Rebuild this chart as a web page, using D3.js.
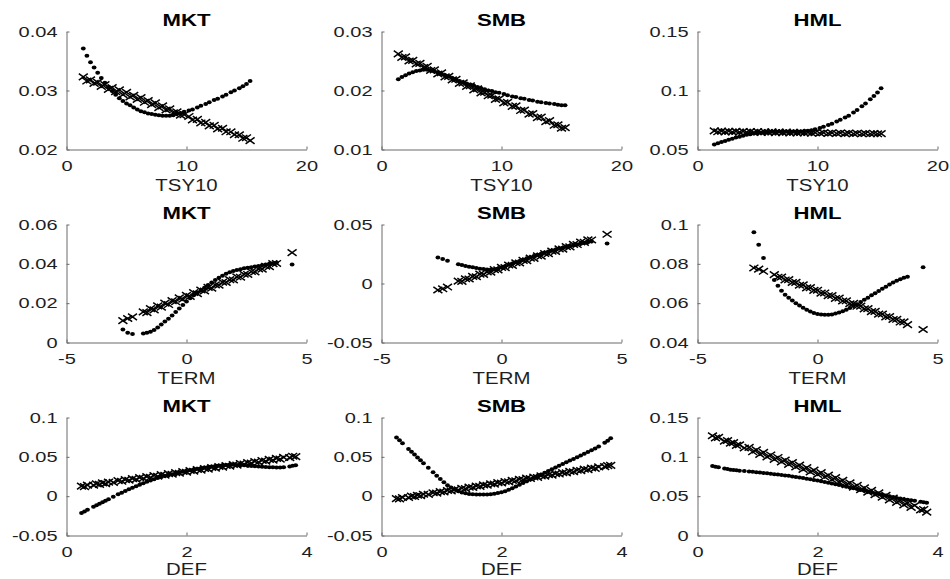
<!DOCTYPE html>
<html>
<head>
<meta charset="utf-8">
<script src="https://cdn.jsdelivr.net/npm/d3@7"></script>
<style>
  html, body { margin: 0; padding: 0; background: #fff; }
  svg { display: block; }
  text { font-family: "Liberation Sans", Arial, Helvetica, sans-serif; }
</style>
</head>
<body>
<div id="chart"></div>
<script>
// ---------------- DATA ----------------
const factors = ["MKT", "SMB", "HML"];
const predictors = ["TSY10", "TERM", "DEF"];

const xTickTSY10 = [0, 10, 20];
const xTickTERM = [-5, 0, 5];
const xTickDEF = [0, 2, 4];

const yTickMKT_TSY10 = [0.02, 0.03, 0.04];
const yTickSMB_TSY10 = [0.01, 0.02, 0.03];
const yTickHML_TSY10 = [0.05, 0.1, 0.15];
const yTickMKT_TERM = [0, 0.02, 0.04, 0.06];
const yTickSMB_TERM = [-0.05, 0, 0.05];
const yTickHML_TERM = [0.04, 0.06, 0.08, 0.1];
const yTickMKT_DEF = [-0.05, 0, 0.05, 0.1];
const yTickSMB_DEF = [-0.05, 0, 0.05, 0.1];
const yTickHML_DEF = [0, 0.05, 0.1, 0.15];

// observations of each predictor
const xTSY10 = [1.4,1.7,2.0,2.3,2.6,2.9,3.2,3.5,3.8,4.1,4.4,4.7,5.0,5.3,5.6,5.9,6.2,6.5,6.8,7.1,7.4,7.7,8.0,8.3,8.6,8.9,9.2,9.5,9.8,
  10.2,10.5,10.9,11.2,11.6,11.9,12.3,12.6,13.0,13.3,13.7,14.0,14.4,14.7,15.0,15.3];
const xTERM = [-2.65,-2.45,-2.25,-1.8,-1.65,-1.5,-1.35,-1.2,-1.05,-0.9,-0.75,-0.6,-0.45,-0.3,-0.15,0,0.15,0.3,0.45,0.6,0.75,0.9,1.05,1.2,
  1.35,1.5,1.65,1.8,1.95,2.1,2.25,2.4,2.55,2.7,2.85,3.0,3.15,3.3,3.45,3.6,3.75,4.4];
const xDEF = [0.25,0.3,0.35,0.45,0.5,0.55,0.6,0.65,0.7,0.78,0.86,0.92,0.98,1.04,1.10,1.16,1.22,1.28,1.34,1.40,1.46,1.52,1.58,1.64,1.70,
  1.76,1.82,1.88,1.94,2.00,2.06,2.12,2.18,2.24,2.30,2.36,2.42,2.48,2.54,2.60,2.66,2.72,2.78,2.84,2.90,2.96,3.02,3.08,3.14,3.20,3.26,
  3.32,3.38,3.44,3.50,3.56,3.62,3.72,3.77,3.82];

// linear fit (x markers) and nonlinear fit (dots)
const linMKT_TSY10 = [0.0323,0.0316,0.0318,0.0312,0.0314,0.0307,0.0310,0.0302,0.0305,0.0298,0.0301,0.0293,0.0297,0.0289,0.0292,0.0285,0.0288,0.0280,0.0283,0.0276,0.0279,0.0271,0.0274,0.0267,0.0269,0.0262,0.0264,0.0258,0.0259,
  0.0256,0.0250,0.0251,0.0245,0.0246,0.0240,0.0241,0.0235,0.0236,0.0230,0.0230,0.0225,0.0225,0.0219,0.0220,0.0215];
const nonMKT_TSY10 = [0.0371,0.0359,0.0348,0.0339,0.0330,0.0321,0.0313,0.0306,0.0299,0.0293,0.0287,0.0282,0.0278,0.0275,0.0271,0.0268,0.0265,0.0263,0.0261,0.0260,0.0259,0.0258,0.0257,0.0257,0.0257,0.0258,0.0260,0.0262,0.0264,
  0.0266,0.0268,0.0271,0.0274,0.0277,0.0280,0.0284,0.0286,0.0290,0.0293,0.0297,0.0300,0.0304,0.0307,0.0311,0.0316];
const linSMB_TSY10 = [0.0262,0.0256,0.0257,0.0250,0.0251,0.0245,0.0246,0.0239,0.0241,0.0234,0.0235,0.0228,0.0230,0.0223,0.0224,0.0218,0.0219,0.0212,0.0213,0.0207,0.0208,0.0201,0.0203,0.0196,0.0197,0.0191,0.0192,0.0185,0.0186,
  0.0179,0.0180,0.0173,0.0174,0.0166,0.0167,0.0160,0.0161,0.0154,0.0155,0.0147,0.0149,0.0141,0.0142,0.0136,0.0137];
const nonSMB_TSY10 = [0.0219,0.0223,0.0226,0.0229,0.0231,0.0233,0.0234,0.0235,0.0235,0.0234,0.0232,0.0230,0.0228,0.0226,0.0224,0.0221,0.0219,0.0216,0.0214,0.0212,0.0210,0.0208,0.0206,0.0204,0.0202,0.0200,0.0199,0.0197,0.0196,
  0.0194,0.0192,0.0190,0.0189,0.0187,0.0186,0.0184,0.0183,0.0181,0.0180,0.0179,0.0178,0.0177,0.0176,0.0175,0.0175];
const linHML_TSY10 = [0.0658,0.0650,0.0656,0.0649,0.0655,0.0648,0.0654,0.0647,0.0653,0.0646,0.0652,0.0645,0.0651,0.0644,0.0650,0.0644,0.0649,0.0643,0.0648,0.0642,0.0647,0.0641,0.0646,0.0640,0.0645,0.0640,0.0644,0.0639,0.0643,
  0.0638,0.0642,0.0637,0.0641,0.0636,0.0640,0.0635,0.0639,0.0634,0.0638,0.0634,0.0637,0.0633,0.0636,0.0633,0.0635];
const nonHML_TSY10 = [0.0542,0.0553,0.0563,0.0573,0.0583,0.0592,0.0601,0.0609,0.0617,0.0624,0.0630,0.0635,0.0639,0.0643,0.0646,0.0648,0.0650,0.0651,0.0652,0.0652,0.0652,0.0652,0.0652,0.0652,0.0653,0.0656,0.0659,0.0664,0.0671,
  0.0682,0.0692,0.0707,0.0719,0.0737,0.0752,0.0772,0.0787,0.0813,0.0834,0.0866,0.0890,0.0925,0.0953,0.0983,0.1020];

const linMKT_TERM = [0.0111,0.0122,0.0130,0.0156,0.0152,0.0172,0.0166,0.0186,0.0180,0.0200,0.0193,0.0213,0.0207,0.0227,0.0220,0.0240,0.0234,0.0254,0.0248,0.0267,0.0262,0.0280,0.0276,0.0293,0.0291,
  0.0307,0.0305,0.0320,0.0318,0.0334,0.0332,0.0347,0.0346,0.0361,0.0359,0.0374,0.0373,0.0388,0.0386,0.0401,0.0402,0.0457];
const nonMKT_TERM = [0.0066,0.0050,0.0043,0.0046,0.0049,0.0055,0.0064,0.0076,0.0091,0.0107,0.0121,0.0137,0.0155,0.0173,0.0191,0.0208,0.0225,0.0240,0.0253,0.0265,0.0279,0.0292,0.0305,0.0318,0.0329,
  0.0340,0.0349,0.0357,0.0364,0.0369,0.0373,0.0377,0.0380,0.0383,0.0386,0.0389,0.0393,0.0397,0.0400,0.0403,0.0406,0.0396];
const linSMB_TERM = [-0.0055,-0.0045,-0.0030,0.0020,0.0018,0.0040,0.0038,0.0060,0.0057,0.0079,0.0077,0.0099,0.0096,0.0118,0.0115,0.0137,0.0135,0.0157,0.0154,0.0176,0.0174,0.0196,0.0193,0.0215,0.0213,
  0.0235,0.0232,0.0254,0.0252,0.0274,0.0271,0.0293,0.0291,0.0313,0.0310,0.0332,0.0330,0.0352,0.0349,0.0371,0.0369,0.0417];
const nonSMB_TERM = [0.0220,0.0208,0.0192,0.0163,0.0156,0.0149,0.0143,0.0137,0.0131,0.0126,0.0122,0.0119,0.0117,0.0119,0.0126,0.0136,0.0147,0.0159,0.0170,0.0181,0.0191,0.0202,0.0213,0.0223,0.0233,
  0.0243,0.0253,0.0262,0.0271,0.0280,0.0288,0.0296,0.0303,0.0310,0.0317,0.0324,0.0331,0.0337,0.0343,0.0349,0.0355,0.0339];
const linHML_TERM = [0.0779,0.0773,0.0762,0.0745,0.0732,0.0733,0.0718,0.0720,0.0705,0.0706,0.0691,0.0693,0.0678,0.0679,0.0665,0.0666,0.0651,0.0652,0.0638,0.0639,0.0624,0.0626,0.0611,0.0612,0.0597,
  0.0599,0.0584,0.0585,0.0571,0.0572,0.0557,0.0558,0.0544,0.0545,0.0530,0.0532,0.0517,0.0518,0.0504,0.0505,0.0491,0.0466];
const nonHML_TERM = [0.0960,0.0897,0.0830,0.0718,0.0688,0.0663,0.0643,0.0627,0.0613,0.0600,0.0588,0.0577,0.0566,0.0557,0.0550,0.0545,0.0542,0.0541,0.0541,0.0543,0.0547,0.0552,0.0559,0.0567,0.0576,
  0.0585,0.0595,0.0606,0.0617,0.0628,0.0640,0.0651,0.0662,0.0673,0.0684,0.0695,0.0705,0.0714,0.0722,0.0729,0.0734,0.0783];

const linMKT_DEF = [0.0128,0.0122,0.0140,0.0140,0.0158,0.0150,0.0169,0.0160,0.0179,0.0175,
  0.0197,0.0189,0.0210,0.0202,0.0223,0.0214,0.0236,0.0227,0.0249,0.0240,0.0262,0.0253,0.0274,0.0266,0.0287,0.0279,0.0300,0.0291,0.0313,0.0304,
  0.0326,0.0317,0.0339,0.0330,0.0351,0.0343,0.0364,0.0356,0.0377,0.0369,0.0390,0.0381,0.0403,0.0394,0.0416,0.0407,0.0428,0.0420,0.0441,0.0433,
  0.0454,0.0446,0.0467,0.0458,0.0480,0.0471,0.0493,0.0490,0.0508,0.0503];
const nonMKT_DEF = [-0.0214,-0.0194,-0.0174,-0.0135,-0.0115,-0.0095,-0.0076,-0.0057,-0.0038,-0.0008,
  0.0023,0.0045,0.0066,0.0087,0.0107,0.0126,0.0145,0.0164,0.0182,0.0200,0.0216,0.0230,0.0244,0.0257,0.0269,0.0280,0.0291,0.0301,0.0311,0.0321,
  0.0330,0.0339,0.0348,0.0356,0.0364,0.0372,0.0378,0.0384,0.0389,0.0393,0.0396,0.0398,0.0398,0.0397,0.0395,0.0392,0.0388,0.0384,0.0380,0.0376,
  0.0373,0.0370,0.0368,0.0366,0.0365,0.0365,0.0366,0.0378,0.0386,0.0394];
const linSMB_DEF = [-0.0031,-0.0035,-0.0017,-0.0017,0.0001,-0.0005,0.0012,0.0006,0.0024,0.0022,
  0.0043,0.0039,0.0058,0.0053,0.0072,0.0067,0.0086,0.0081,0.0101,0.0096,0.0115,0.0110,0.0129,0.0124,0.0143,0.0139,0.0158,0.0153,0.0172,0.0167,
  0.0186,0.0181,0.0200,0.0196,0.0215,0.0210,0.0229,0.0224,0.0243,0.0238,0.0258,0.0253,0.0272,0.0267,0.0286,0.0281,0.0300,0.0296,0.0315,0.0310,
  0.0329,0.0324,0.0343,0.0338,0.0358,0.0353,0.0372,0.0375,0.0388,0.0392];
const nonSMB_DEF = [0.0745,0.0710,0.0674,0.0601,0.0565,0.0529,0.0492,0.0456,0.0419,0.0361,
  0.0303,0.0259,0.0217,0.0177,0.0140,0.0110,0.0085,0.0064,0.0048,0.0037,0.0029,0.0024,0.0021,0.0020,0.0020,0.0022,0.0025,0.0030,0.0039,0.0050,
  0.0063,0.0080,0.0100,0.0122,0.0145,0.0168,0.0191,0.0213,0.0235,0.0256,0.0277,0.0298,0.0320,0.0342,0.0364,0.0386,0.0408,0.0430,0.0452,0.0474,
  0.0496,0.0518,0.0540,0.0562,0.0584,0.0606,0.0632,0.0680,0.0705,0.0735];
const linHML_DEF = [0.1268,0.1240,0.1248,0.1199,0.1208,0.1173,0.1181,0.1146,0.1154,0.1112,
  0.1120,0.1064,0.1088,0.1032,0.1056,0.1000,0.1024,0.0968,0.0992,0.0936,0.0960,0.0904,0.0928,0.0871,0.0895,0.0839,0.0863,0.0807,0.0831,0.0775,
  0.0799,0.0743,0.0767,0.0711,0.0735,0.0679,0.0702,0.0646,0.0670,0.0614,0.0638,0.0582,0.0606,0.0550,0.0574,0.0518,0.0542,0.0486,0.0510,0.0453,
  0.0477,0.0421,0.0445,0.0389,0.0413,0.0357,0.0381,0.0324,0.0331,0.0297];
const nonHML_DEF = [0.0882,0.0875,0.0866,0.0852,0.0844,0.0837,0.0832,0.0828,0.0824,0.0819,
  0.0813,0.0809,0.0805,0.0800,0.0795,0.0790,0.0785,0.0780,0.0775,0.0770,0.0764,0.0758,0.0751,0.0744,0.0737,0.0730,0.0722,0.0714,0.0706,0.0698,
  0.0689,0.0680,0.0671,0.0661,0.0651,0.0641,0.0631,0.0621,0.0611,0.0600,0.0590,0.0579,0.0569,0.0558,0.0548,0.0538,0.0528,0.0518,0.0508,0.0498,
  0.0488,0.0478,0.0469,0.0461,0.0454,0.0447,0.0441,0.0428,0.0422,0.0416];

// ---------------- PANEL TABLE ----------------
const rowX = [xTSY10, xTERM, xDEF];
const rowXTicks = [xTickTSY10, xTickTERM, xTickDEF];
const panelLin = [[linMKT_TSY10, linSMB_TSY10, linHML_TSY10],[linMKT_TERM, linSMB_TERM, linHML_TERM],[linMKT_DEF, linSMB_DEF, linHML_DEF]];
const panelNon = [[nonMKT_TSY10, nonSMB_TSY10, nonHML_TSY10],[nonMKT_TERM, nonSMB_TERM, nonHML_TERM],[nonMKT_DEF, nonSMB_DEF, nonHML_DEF]];
const panelYTicks = [[yTickMKT_TSY10, yTickSMB_TSY10, yTickHML_TSY10],[yTickMKT_TERM, yTickSMB_TERM, yTickHML_TERM],[yTickMKT_DEF, yTickSMB_DEF, yTickHML_DEF]];

// ---------------- LAYOUT ----------------
const W = 950, H = 579;
const colLeft = [66, 381, 697];
const rowTop = [31, 224, 417];
const pw = 240, ph = 118;
const axisColor = "#6a6a6a";
const textColor = "#1e1e1e";
const tickSX = 1.38, labelSX = 1.2, titleSX = 1.36;

const svg = d3.select("#chart").append("svg").attr("width", W).attr("height", H);

for (let r = 0; r < 3; r++) {
  for (let c = 0; c < 3; c++) {
    const xt = rowXTicks[r], yt = panelYTicks[r][c];
    const xs = d3.scaleLinear().domain([xt[0], xt[xt.length - 1]]).range([0, pw]);
    const ys = d3.scaleLinear().domain([yt[0], yt[yt.length - 1]]).range([ph, 0]);
    const g = svg.append("g").attr("transform", `translate(${colLeft[c] + 0.5},${rowTop[r] + 0.5})`);

    const xAxis = g.append("g").attr("transform", `translate(0,${ph})`)
      .call(d3.axisBottom(xs).tickValues(xt).tickSize(-3).tickSizeOuter(0).tickPadding(11).tickFormat(d => String(d)));
    const yAxis = g.append("g")
      .call(d3.axisLeft(ys).tickValues(yt).tickSize(-3).tickSizeOuter(0).tickPadding(9).tickFormat(d => String(d)));

    [xAxis, yAxis].forEach(a => {
      a.select(".domain").attr("stroke", axisColor).attr("stroke-width", 1);
      a.selectAll(".tick line").attr("stroke", axisColor).attr("stroke-width", 1);
      a.selectAll(".tick text").attr("fill", textColor).style("font-size", "14.5px")
        .style("font-family", '"Liberation Sans", Arial, Helvetica, sans-serif');
    });
    xAxis.selectAll(".tick text").attr("transform", `scale(${tickSX},1)`);
    yAxis.selectAll(".tick text").attr("x", -9 / tickSX).attr("transform", `scale(${tickSX},1)`);

    // title
    g.append("text")
      .attr("transform", `translate(${pw / 2},-6) scale(${titleSX},1)`)
      .attr("text-anchor", "middle").attr("fill", "#000")
      .style("font-size", "16.3px").style("font-weight", "bold")
      .text(factors[c]);
    // x label (kept inside the canvas on the last row)
    const labelY = Math.min(ph + 41.5, H - 5 - rowTop[r]);
    g.append("text")
      .attr("transform", `translate(${pw / 2},${labelY}) scale(${labelSX},1)`)
      .attr("text-anchor", "middle").attr("fill", textColor)
      .style("font-size", "17px")
      .text(predictors[r]);

    const xv = rowX[r], lin = panelLin[r][c], non = panelNon[r][c];
    // linear fit: x markers
    g.append("g").selectAll("path").data(xv.map((x, i) => [x, lin[i]])).join("path")
      .attr("transform", d => `translate(${xs(d[0])},${ys(d[1])})`)
      .attr("d", "M-4.5,-3.2L4.5,3.2M-4.5,3.2L4.5,-3.2")
      .attr("stroke", "#000").attr("stroke-width", 1.5).attr("fill", "none");
    // nonlinear fit: dots
    g.append("g").selectAll("ellipse").data(xv.map((x, i) => [x, non[i]])).join("ellipse")
      .attr("cx", d => xs(d[0])).attr("cy", d => ys(d[1]))
      .attr("rx", 2.4).attr("ry", 2.0).attr("fill", "#000");
  }
}
</script>
</body>
</html>
